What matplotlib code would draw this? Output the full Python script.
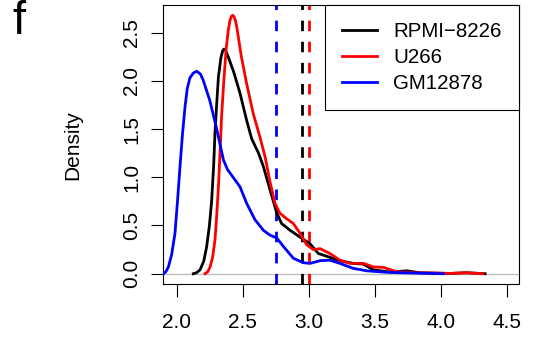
import matplotlib
matplotlib.use("Agg")
import matplotlib.pyplot as plt

# density curves
rpmi_x = [2.126, 2.15, 2.177, 2.205, 2.227, 2.248, 2.265, 2.28, 2.29, 2.304, 2.316, 2.335, 2.348, 2.358, 2.37,
          2.39, 2.43, 2.48, 2.53, 2.568, 2.62, 2.657, 2.707, 2.758, 2.795, 2.859, 2.934, 3.01, 3.073,
          3.16, 3.237, 3.338, 3.414, 3.49, 3.616, 3.742, 3.843, 4.07, 4.197, 4.336]
rpmi_y = [0.0, 0.01, 0.04, 0.13, 0.28, 0.5, 0.76, 1.12, 1.46, 1.78, 2.04, 2.24, 2.31, 2.33, 2.32,
          2.25, 2.10, 1.87, 1.59, 1.40, 1.25, 1.11, 0.87, 0.63, 0.52, 0.45, 0.38, 0.31, 0.21,
          0.17, 0.135, 0.107, 0.10, 0.04, 0.017, 0.03, 0.01, 0.003, 0.01, 0.0]

u266_x = [2.215, 2.235, 2.253, 2.272, 2.29, 2.303, 2.316, 2.328, 2.34, 2.357, 2.374, 2.39, 2.404, 2.415, 2.424,
          2.433, 2.444, 2.455, 2.49, 2.53, 2.58, 2.63, 2.67, 2.707, 2.745, 2.78, 2.833, 2.884, 2.934, 2.985,
          3.035, 3.086, 3.16, 3.237, 3.313, 3.414, 3.49, 3.566, 3.667, 3.818, 4.07, 4.197, 4.32]
u266_y = [0.0, 0.02, 0.07, 0.17, 0.35, 0.6, 0.90, 1.25, 1.63, 2.0, 2.32, 2.52, 2.63, 2.67, 2.68,
          2.67, 2.63, 2.56, 2.25, 1.97, 1.66, 1.42, 1.21, 0.95, 0.73, 0.63, 0.57, 0.52, 0.42, 0.30,
          0.25, 0.26, 0.21, 0.14, 0.107, 0.107, 0.07, 0.066, 0.02, 0.01, 0.003, 0.01, 0.0]

gm_x = [1.899, 1.918, 1.937, 1.962, 1.987, 2.006, 2.025, 2.044, 2.063, 2.08, 2.10, 2.125, 2.152, 2.18,
        2.20, 2.25, 2.30, 2.354, 2.385, 2.417, 2.48, 2.53, 2.593, 2.657, 2.707, 2.758, 2.81, 2.884, 2.96,
        3.01, 3.086, 3.16, 3.237, 3.338, 3.44, 3.566, 3.69, 4.02]
gm_y = [0.0, 0.02, 0.07, 0.2, 0.42, 0.75, 1.11, 1.45, 1.73, 1.92, 2.03, 2.08, 2.10, 2.07,
        2.01, 1.80, 1.52, 1.18, 1.08, 1.02, 0.90, 0.73, 0.56, 0.45, 0.40, 0.37, 0.28, 0.16, 0.114,
        0.107, 0.135, 0.14, 0.107, 0.055, 0.03, 0.017, 0.01, 0.0]

series_names = ["RPMI\u22128226", "U266", "GM12878"]
series_colors = ["black", "red", "blue"]
medians = [2.952, 3.003, 2.753]

xticks = [2.0, 2.5, 3.0, 3.5, 4.0, 4.5]
yticks = [0.0, 0.5, 1.0, 1.5, 2.0, 2.5]


def main():
    plt.rcParams["font.family"] = ["Liberation Sans", "DejaVu Sans"]
    fs = 15

    fig = plt.figure(figsize=(5.34, 3.44), dpi=100)
    ax = fig.add_axes([0.3058, 0.1735, 0.6667, 0.812])

    ax.axhline(0, color="#bebebe", lw=1.0, zorder=1)

    curves = [(rpmi_x, rpmi_y), (u266_x, u266_y), (gm_x, gm_y)]
    for (xs, ys), name, col in zip(curves, series_names, series_colors):
        ax.plot(xs, ys, color=col, lw=2.0, label=name, zorder=3,
                solid_joinstyle="round")

    for m, col in zip(medians, series_colors):
        ax.axvline(m, color=col, lw=2.0, linestyle=(0, (3.8, 3.8)), zorder=2)

    ax.set_xlim(1.8985, 4.5955)
    ax.set_ylim(-0.11, 2.787)
    ax.set_xticks(xticks)
    ax.set_yticks(yticks)
    ax.set_xticklabels([f"{t:.1f}" for t in xticks])
    ax.set_yticklabels([f"{t:.1f}" for t in yticks])

    for s in ax.spines.values():
        s.set_linewidth(0.8)
    ax.tick_params(axis="both", length=9, width=0.8, labelsize=fs)
    ax.tick_params(axis="x", pad=12)
    ax.tick_params(axis="y", pad=7)
    for lab in ax.get_yticklabels():
        lab.set_rotation(90)
        lab.set_va("center")

    ax.set_ylabel("Density", fontsize=fs)
    ax.yaxis.set_label_coords(-0.228, 0.5)

    leg = ax.legend(loc="upper right", fontsize=14.8, frameon=True, fancybox=False,
                    framealpha=1, edgecolor="black", borderaxespad=0,
                    handlelength=1.7, handletextpad=0.8, labelspacing=0.33,
                    borderpad=0.85)
    leg.get_frame().set_linewidth(0.8)

    fig.text(12 / 534, 1.0, "f", fontsize=34, ha="left", va="top")

    fig.savefig("out.png", dpi=100)


if __name__ == "__main__":
    main()
